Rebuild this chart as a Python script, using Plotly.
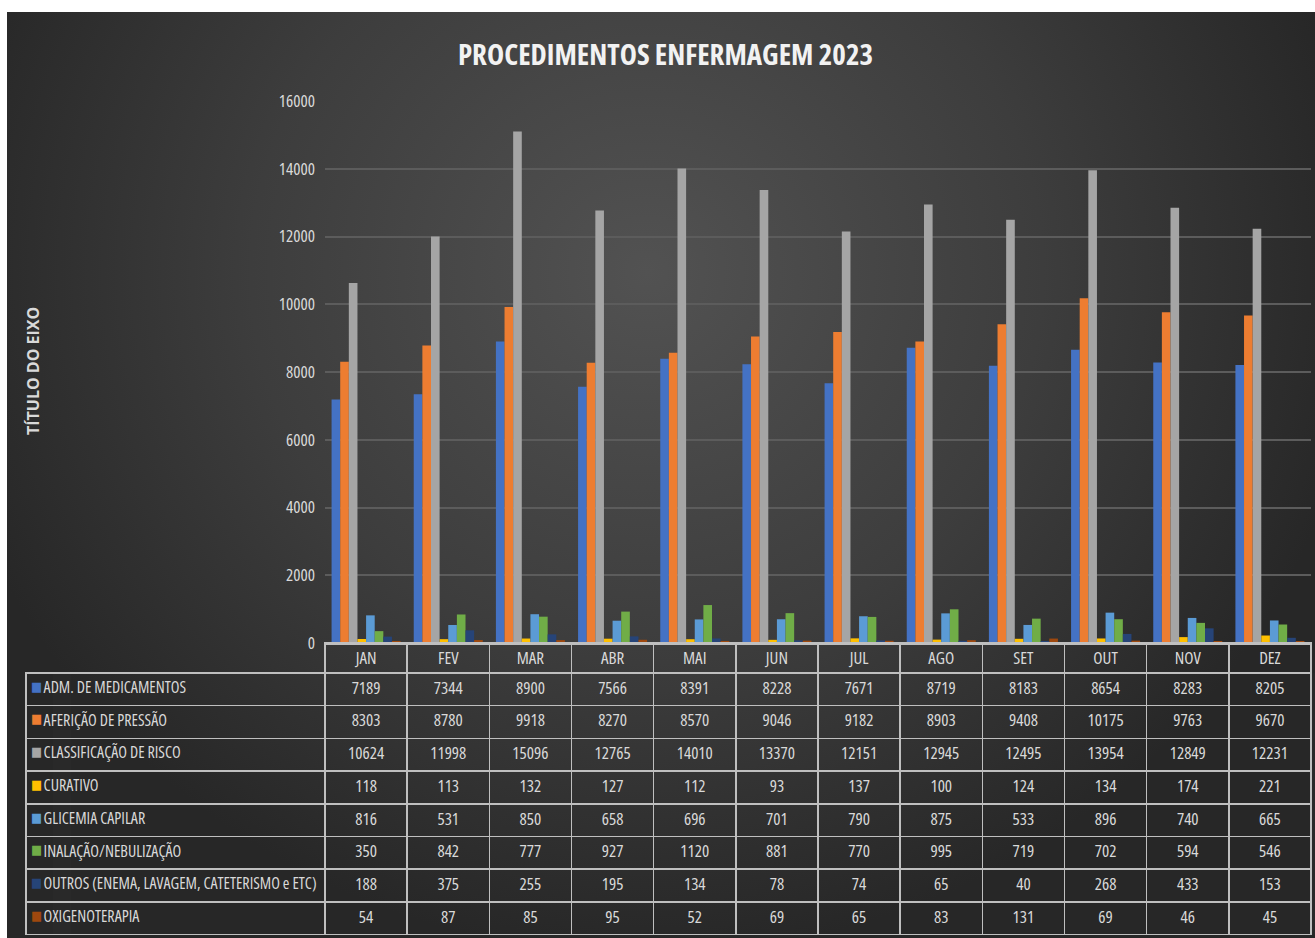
import base64
import plotly.graph_objects as go

# ---------------- data ----------------
months = ["JAN", "FEV", "MAR", "ABR", "MAI", "JUN", "JUL", "AGO", "SET", "OUT", "NOV", "DEZ"]

series_names = [
    "ADM. DE MEDICAMENTOS",
    "AFERIÇÃO DE PRESSÃO",
    "CLASSIFICAÇÃO DE RISCO",
    "CURATIVO",
    "GLICEMIA CAPILAR",
    "INALAÇÃO/NEBULIZAÇÃO",
    "OUTROS (ENEMA, LAVAGEM, CATETERISMO e ETC)",
    "OXIGENOTERAPIA",
]

adm_medicamentos = [7189, 7344, 8900, 7566, 8391, 8228, 7671, 8719, 8183, 8654, 8283, 8205]
afericao_pressao = [8303, 8780, 9918, 8270, 8570, 9046, 9182, 8903, 9408, 10175, 9763, 9670]
classificacao_risco = [10624, 11998, 15096, 12765, 14010, 13370, 12151, 12945, 12495, 13954, 12849, 12231]
curativo = [118, 113, 132, 127, 112, 93, 137, 100, 124, 134, 174, 221]
glicemia_capilar = [816, 531, 850, 658, 696, 701, 790, 875, 533, 896, 740, 665]
inalacao_nebulizacao = [350, 842, 777, 927, 1120, 881, 770, 995, 719, 702, 594, 546]
outros = [188, 375, 255, 195, 134, 78, 74, 65, 40, 268, 433, 153]
oxigenoterapia = [54, 87, 85, 95, 52, 69, 65, 83, 131, 69, 46, 45]

series_values = [
    adm_medicamentos, afericao_pressao, classificacao_risco, curativo,
    glicemia_capilar, inalacao_nebulizacao, outros, oxigenoterapia,
]

y_ticks = [0, 2000, 4000, 6000, 8000, 10000, 12000, 14000, 16000]

title_text = "PROCEDIMENTOS ENFERMAGEM 2023"
axis_title_text = "TÍTULO DO EIXO"

# ---------------- style ----------------
colors = ["#4472C4", "#ED7D31", "#A5A5A5", "#FFC000", "#5B9BD5", "#70AD47", "#264478", "#9E480E"]
txt_color = "#d9d9d9"
line_color = "#bfbfbf"
clear = "rgba(0,0,0,0)"
cond = "Open Sans, sans-serif"
NBSP = "\u00a0"
KEY_GAP = "\u2002\u200a"   # room for the legend key

W, H = 1315, 938
L, T = 7, 12          # white margins
PW, PH = W - L, H - T  # dark panel size


def fx(px):
    return (px - L) / PW


def fy(py):
    return 1 - (py - T) / PH


plot_left, plot_right = 325, 1311
plot_top, plot_bottom = 101, 643
table_left, table_bottom = 26, 935
header_h, row_h = 30, 32.7

fig = go.Figure()

for name, vals, col in zip(series_names, series_values, colors):
    fig.add_trace(go.Bar(
        x=months, y=vals, name=name,
        marker=dict(color=col, line=dict(width=0)),
        showlegend=False,
    ))

# data table under the chart
first_col = [KEY_GAP + n.replace(" ", NBSP) for n in series_names]
cell_values = [first_col] + [[vals[i] for vals in series_values] for i in range(len(months))]
col_w = (plot_right - plot_left) / len(months)
table_domain_y = [fy(table_bottom), fy(plot_bottom)]

fig.add_trace(go.Table(
    domain=dict(x=[fx(table_left), fx(plot_right)], y=table_domain_y),
    columnwidth=[plot_left - table_left] + [col_w] * len(months),
    header=dict(
        values=[""] + months,
        height=header_h,
        align="center",
        font=dict(family=cond, size=17, color=txt_color),
        fill=dict(color=clear),
        line=dict(color=[clear] + [line_color] * len(months), width=1.5),
    ),
    cells=dict(
        values=cell_values,
        height=row_h,
        align=["left"] + ["center"] * len(months),
        font=dict(family=cond, size=[16] + [17] * len(months), color=txt_color),
        fill=dict(color=clear),
        line=dict(color=line_color, width=1.5),
    ),
))

# legend keys of the data table (one coloured square per series)
fig.add_trace(go.Table(
    domain=dict(x=[fx(table_left - 3), fx(table_left + 27)], y=table_domain_y),
    header=dict(values=[""], height=header_h, fill=dict(color=clear), line=dict(color=clear, width=0)),
    cells=dict(
        values=[["■"] * len(series_names)],
        height=row_h,
        align="left",
        font=dict(family="DejaVu Sans", size=13, color=[colors]),
        fill=dict(color=clear),
        line=dict(color=clear, width=0),
    ),
))

# background gradient (decoration)
svg = (
    f"<svg xmlns='http://www.w3.org/2000/svg' width='{PW}' height='{PH}' viewBox='0 0 {PW} {PH}' preserveAspectRatio='none'>"
    "<defs><radialGradient id='g' gradientUnits='userSpaceOnUse' cx='640' cy='260' r='720' "
    "gradientTransform='translate(640 260) scale(1 0.95) translate(-640 -260)'>"
    "<stop offset='0' stop-color='#525252'/><stop offset='0.55' stop-color='#3d3d3d'/>"
    "<stop offset='1' stop-color='#272727'/></radialGradient></defs>"
    f"<rect x='0' y='0' width='{PW}' height='{PH}' fill='url(#g)'/></svg>"
)
svg_uri = "data:image/svg+xml;base64," + base64.b64encode(svg.encode("utf-8")).decode("ascii")

fig.update_layout(
    width=W, height=H,
    margin=dict(l=L, r=0, t=T, b=0, pad=0, autoexpand=False),
    paper_bgcolor="white",
    plot_bgcolor=clear,
    barmode="group",
    bargap=0.16,
    bargroupgap=0,
    showlegend=False,
    images=[dict(
        source=svg_uri, xref="paper", yref="paper", x=0, y=1, sizex=1, sizey=1,
        xanchor="left", yanchor="top", sizing="stretch", layer="below",
    )],
    title=dict(
        text=title_text,
        x=fx(665.5), xref="paper", xanchor="center",
        y=1 - 55 / H, yref="container", yanchor="middle",
        font=dict(family=cond, size=29, color="#f2f2f2", weight="bold"),
    ),
    xaxis=dict(
        domain=[fx(plot_left), fx(plot_right)],
        showticklabels=False, showgrid=False, zeroline=False,
        showline=True, linecolor=line_color, linewidth=1.5,
        ticks="", automargin=False,
    ),
    yaxis=dict(
        domain=[fy(plot_bottom), fy(plot_top)],
        range=[0, 16000],
        tickvals=y_ticks,
        ticktext=[str(v) for v in y_ticks],
        tickfont=dict(family=cond, size=17, color=txt_color),
        showgrid=True, gridcolor="#5c5c5c", gridwidth=1.5,
        zeroline=False, showline=False, ticks="",
        ticklabelstandoff=9, automargin=False,
    ),
    annotations=[dict(
        text=axis_title_text, textangle=-90,
        xref="paper", yref="paper", x=fx(33), y=fy(371),
        xanchor="center", yanchor="middle", showarrow=False,
        font=dict(family="Open Sans, sans-serif", size=16, color=txt_color, weight="bold"),
    )],
)

css = ("var s=document.createElement('style');"
       "s.textContent='.main-svg text{font-stretch:75%;} .main-svg .annotation text{font-stretch:100%;}';"
       "document.head.appendChild(s);document.body.style.margin='0';")

fig.write_html("out.html", config={"displayModeBar": False}, post_script=css)
